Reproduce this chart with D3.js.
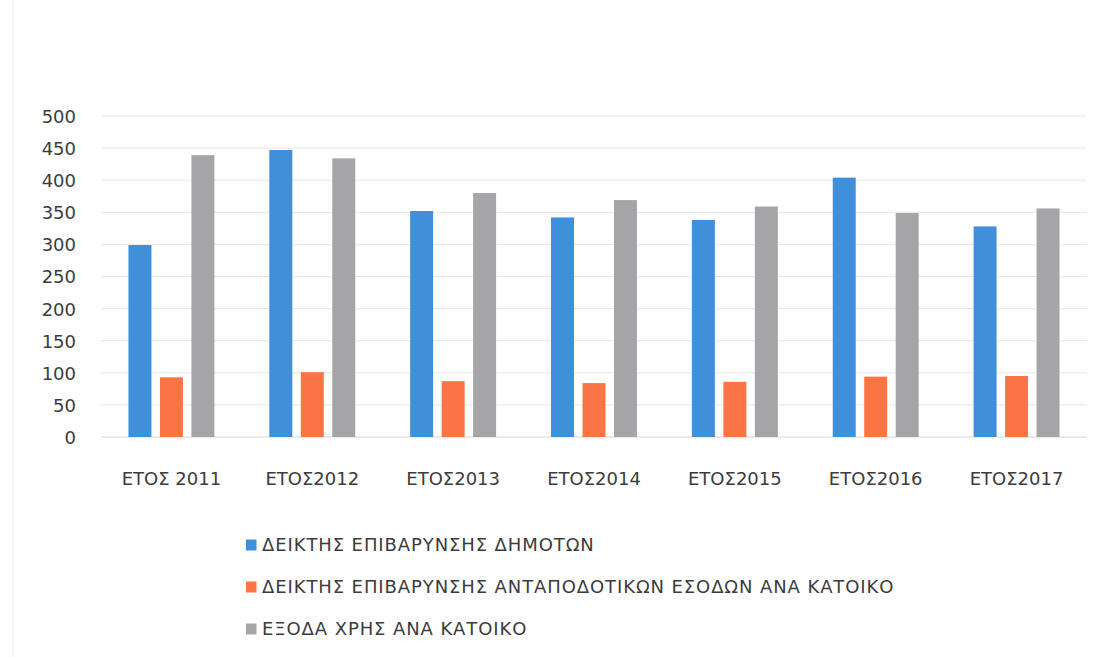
<!DOCTYPE html>
<html>
<head>
<meta charset="utf-8">
<script src="https://cdn.jsdelivr.net/npm/d3@7"></script>
<style>
  body { margin: 0; background: #fff; }
  svg { display: block; }
  svg text { font-family: "DejaVu Sans", sans-serif; }
</style>
</head>
<body>
<div id="chart"></div>
<script>
// categories and series
const years = ["ΕΤΟΣ 2011", "ΕΤΟΣ2012", "ΕΤΟΣ2013", "ΕΤΟΣ2014", "ΕΤΟΣ2015", "ΕΤΟΣ2016", "ΕΤΟΣ2017"];
const seriesNames = [
  "ΔΕΙΚΤΗΣ ΕΠΙΒΑΡΥΝΣΗΣ ΔΗΜΟΤΩΝ",
  "ΔΕΙΚΤΗΣ ΕΠΙΒΑΡΥΝΣΗΣ ΑΝΤΑΠΟΔΟΤΙΚΩΝ ΕΣΟΔΩΝ ΑΝΑ ΚΑΤΟΙΚΟ",
  "ΕΞΟΔΑ ΧΡΗΣ ΑΝΑ ΚΑΤΟΙΚΟ"
];
const dimotes = [299, 447, 352, 342, 338, 404, 328];
const antapodotika = [93, 101, 87, 84, 86, 94, 95];
const exoda = [439, 434, 380, 369, 359, 349, 356];
const yTicks = [0, 50, 100, 150, 200, 250, 300, 350, 400, 450, 500];
const colors = ["#3f8fdb", "#fb7446", "#a5a4a7"];

const W = 1103, H = 657;
const svg = d3.select("#chart").append("svg").attr("width", W).attr("height", H);

// faint scan edge on the left
svg.append("line").attr("x1", 13).attr("x2", 13).attr("y1", 0).attr("y2", H)
  .attr("stroke", "#ececec").attr("stroke-width", 1);

const y = d3.scaleLinear().domain([0, 500]).range([437, 116]);
const x0 = d3.scaleBand().domain(years).range([101, 1087]).paddingInner(0.39).paddingOuter(0.195);
const x1 = d3.scaleBand().domain([0, 1, 2]).range([0, x0.bandwidth()]).paddingInner(0.27);

// gridlines
svg.append("g").selectAll("line").data(yTicks).enter().append("line")
  .attr("x1", 101).attr("x2", 1087)
  .attr("y1", d => y(d)).attr("y2", d => y(d))
  .attr("stroke", d => d === 0 ? "#d6d6d6" : "#e8e8e8").attr("stroke-width", 1);

// y axis labels
const yAxis = d3.axisLeft(y).tickValues(yTicks).tickSize(0).tickPadding(0);
const gy = svg.append("g").attr("transform", "translate(76,0)").call(yAxis);
gy.select(".domain").remove();
gy.attr("font-family", null);
gy.selectAll("text").attr("font-size", 18).attr("fill", "#3c3c3c").attr("dy", "0.36em");

// x axis labels
const xAxis = d3.axisBottom(x0).tickSize(0).tickPadding(0);
const gx = svg.append("g").attr("transform", "translate(0,0)").call(xAxis);
gx.select(".domain").remove();
gx.attr("font-family", null);
gx.selectAll("text").attr("font-size", 18).attr("fill", "#3c3c3c")
  .attr("y", 485).attr("dy", null);

// bars
const allSeries = [dimotes, antapodotika, exoda];
const groups = svg.append("g").selectAll("g").data(years).enter().append("g")
  .attr("transform", d => "translate(" + x0(d) + ",0)");
groups.selectAll("rect").data((d, i) => allSeries.map((s, k) => ({ k: k, v: s[i] })))
  .enter().append("rect")
  .attr("x", d => x1(d.k))
  .attr("width", x1.bandwidth())
  .attr("y", d => y(d.v))
  .attr("height", d => y(0) - y(d.v))
  .attr("fill", d => colors[d.k]);

// legend
const legend = svg.append("g").selectAll("g").data(seriesNames).enter().append("g")
  .attr("transform", (d, i) => "translate(246," + (545 + i * 42) + ")");
legend.append("rect").attr("x", 0).attr("y", -5.5).attr("width", 10.5).attr("height", 11)
  .attr("fill", (d, i) => colors[i]);
legend.append("text").attr("x", 16).attr("y", 0).attr("dy", "0.36em")
  .attr("font-size", 18).attr("letter-spacing", "0.9px")
  .attr("fill", "#3c3c3c").text(d => d);
</script>
</body>
</html>
